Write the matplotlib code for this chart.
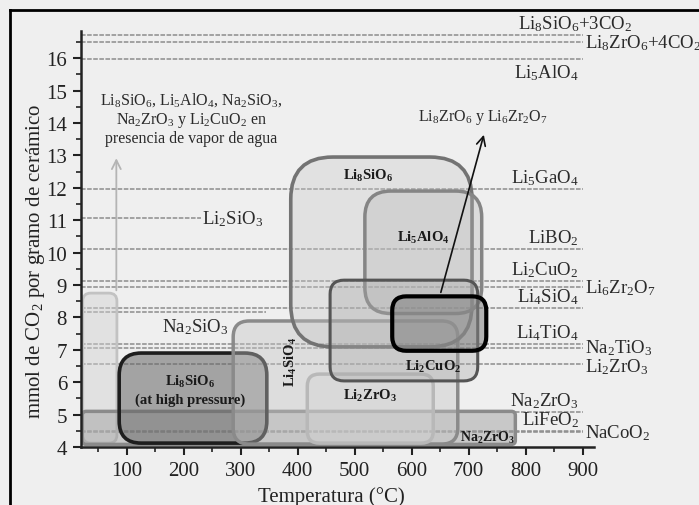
import numpy as np
import matplotlib
matplotlib.use("Agg")
import matplotlib.pyplot as plt
from matplotlib.patches import FancyBboxPatch
from matplotlib.lines import Line2D
from matplotlib.ticker import MultipleLocator

plt.rcParams['font.family'] = ['Liberation Serif', 'DejaVu Serif']
plt.rcParams['mathtext.fontset'] = 'custom'
plt.rcParams['mathtext.rm'] = 'Liberation Serif'
plt.rcParams['mathtext.it'] = 'Liberation Serif:italic'
plt.rcParams['mathtext.bf'] = 'Liberation Serif:bold'

# capacidades teoricas (lineas horizontales)
line_names = [r'Li$_8$SiO$_6$+3CO$_2$', r'Li$_8$ZrO$_6$+4CO$_2$', r'Li$_5$AlO$_4$',
              r'Li$_5$GaO$_4$', r'Li$_2$SiO$_3$', r'LiBO$_2$', r'Li$_2$CuO$_2$',
              r'Li$_6$Zr$_2$O$_7$', r'Li$_4$SiO$_4$', r'Na$_2$SiO$_3$', r'Li$_4$TiO$_4$',
              r'Na$_2$TiO$_3$', r'Li$_2$ZrO$_3$', r'Na$_2$ZrO$_3$', r'LiFeO$_2$', r'NaCoO$_2$']
line_vals = [16.72, 16.49, 15.98, 11.96, 11.07, 10.11, 9.13, 8.93, 8.29, 8.16,
             7.18, 7.06, 6.56, 5.09, 4.48, 4.47]
line_end = [900, 900, 900, 900, 230, 900, 900, 900, 900, 345,
            900, 900, 900, 900, 900, 900]

# regiones experimentales (temperatura, capacidad)
box_names = ['vapor', 'Na2ZrO3', 'Li8SiO6_hp', 'Li4SiO4', 'Li2ZrO3',
             'Li8SiO6', 'Li5AlO4', 'Li2CuO2', 'Li8ZrO6']
box_t0 = [23, 22, 87, 287, 417, 388, 518, 457, 566]
box_t1 = [83, 782, 346, 681, 638, 706, 723, 716, 731]
box_c0 = [4.12, 4.08, 4.12, 4.09, 4.12, 7.09, 8.12, 6.04, 6.97]
box_c1 = [8.75, 5.10, 6.90, 7.89, 6.25, 12.95, 11.90, 9.15, 8.65]

# label placement per line: (x, ha, dy, va)
line_lab = {
    0: (887, 'center', 0.06, 'bottom'),
    1: (905, 'left', 0.0, 'center'),
    2: (893, 'right', -0.1, 'top'),
    3: (893, 'right', 0.06, 'bottom'),
    4: (232, 'left', 0.0, 'center'),
    5: (893, 'right', 0.06, 'bottom'),
    6: (893, 'right', 0.06, 'bottom'),
    7: (904, 'left', 0.0, 'center'),
    8: (893, 'right', 0.06, 'bottom'),
    9: (220, 'center', -0.12, 'top'),
    10: (893, 'right', 0.06, 'bottom'),
    11: (904, 'left', 0.03, 'center'),
    12: (904, 'left', -0.07, 'center'),
    13: (893, 'right', 0.06, 'bottom'),
    14: (893, 'right', 0.08, 'bottom'),
    15: (904, 'left', 0.0, 'center'),
}

# box style: face, alpha, edge, lw, radius(px)
box_style = {
    'vapor': ('#d0d0d0', 0.45, '#c2c2c2', 2.0, 8),
    'Na2ZrO3': ('#9a9a9a', 0.45, '#8a8a8a', 2.5, 4),
    'Li8SiO6_hp': ('#666666', 0.55, '#1e1e1e', 2.6, 22),
    'Li4SiO4': ('#c4c4c4', 0.4, '#8a8a8a', 2.5, 16),
    'Li2ZrO3': ('#d4d4d4', 0.4, '#b8b8b8', 2.5, 12),
    'Li8SiO6': ('#c8c8c8', 0.35, '#737373', 2.6, 42),
    'Li5AlO4': ('#b8b8b8', 0.35, '#858585', 2.5, 26),
    'Li2CuO2': ('#a8a8a8', 0.35, '#555555', 2.2, 14),
    'Li8ZrO6': ('#808080', 0.55, '#000000', 3.0, 14),
}

bg = '#efefef'
fig = plt.figure(figsize=(6.99, 5.06), dpi=100, facecolor=bg)
ax = fig.add_axes([81/699, 58/506, 513/699, 416.3/506])
ax.set_facecolor(bg)
xmin, xmax, ymin, ymax = 20, 920, 4, 16.85
ax.set_xlim(xmin, xmax)
ax.set_ylim(ymin, ymax)

px_x = 513/(xmax-xmin)
px_y = 416.3/(ymax-ymin)
aspect = px_x/px_y

for i in range(len(line_vals)):
    ax.plot([xmin, line_end[i]], [line_vals[i], line_vals[i]], color='#8c8c8c',
            lw=1.1, ls=(0, (3, 1)), zorder=1)
    x, ha, dy, va = line_lab[i]
    ax.text(x, line_vals[i]+dy, line_names[i], ha=ha, va=va, fontsize=13.5,
            color='#2a2a2a', clip_on=False, zorder=6)

for i, nm in enumerate(box_names):
    fc, al, ec, lw, r = box_style[nm]
    p = FancyBboxPatch((box_t0[i], box_c0[i]), box_t1[i]-box_t0[i], box_c1[i]-box_c0[i],
                       boxstyle='round,pad=0,rounding_size=%f' % (r/px_x),
                       mutation_aspect=aspect, edgecolor=ec, lw=lw, zorder=2+i*0.1)
    p.set_facecolor(matplotlib.colors.to_rgba(fc, al))
    ax.add_patch(p)

# etiquetas de regiones
bold = dict(fontsize=10.5, color='#1a1a1a', zorder=7, ha='center', va='center')
ax.text(523, 12.4, r'$\mathbf{Li_8SiO_6}$', **bold)
ax.text(620, 10.48, r'$\mathbf{Li_5AlO_4}$', **bold)
ax.text(638, 6.5, r'$\mathbf{Li_2CuO_2}$', **bold)
ax.text(527, 5.6, r'$\mathbf{Li_2ZrO_3}$', **bold)
ax.text(389, 6.66, r'$\mathbf{Li_4SiO_4}$', rotation=90, **bold)
ax.text(211, 6.05, r'$\mathbf{Li_8SiO_6}$', **bold)
ax.text(211, 5.47, '(at high pressure)', fontweight='bold', **bold)
ax.text(734, 4.31, r'$\mathbf{Na_2ZrO_3}$', fontsize=10, color='#1a1a1a', zorder=7,
        ha='center', va='center')

# flechas
ax.annotate('', xy=(82, 13.0), xytext=(82, 8.75),
            arrowprops=dict(arrowstyle='->', color='#b4b4b4', lw=1.3, mutation_scale=16),
            zorder=4)
ax.annotate('', xy=(728, 13.72), xytext=(650, 8.69),
            arrowprops=dict(arrowstyle='->', color='#111111', lw=1.2, mutation_scale=16),
            zorder=8)
ax.text(214, 14.15, 'Li$_8$SiO$_6$, Li$_5$AlO$_4$, Na$_2$SiO$_3$,\nNa$_2$ZrO$_3$ y Li$_2$CuO$_2$ en\npresencia de vapor de agua',
        ha='center', va='center', fontsize=11.5, color='#2a2a2a', linespacing=1.15)
ax.text(725, 14.19, 'Li$_8$ZrO$_6$ y Li$_6$Zr$_2$O$_7$', ha='center', va='center',
        fontsize=11.5, color='#2a2a2a')

# ejes
for s in ['top', 'right']:
    ax.spines[s].set_visible(False)
for s in ['left', 'bottom']:
    ax.spines[s].set_linewidth(1.8)
    ax.spines[s].set_color('#222222')
ax.xaxis.set_major_locator(MultipleLocator(100))
ax.xaxis.set_minor_locator(MultipleLocator(50))
ax.yaxis.set_major_locator(MultipleLocator(1))
ax.yaxis.set_minor_locator(MultipleLocator(0.5))
ax.set_xticks(np.arange(100, 901, 100))
ax.tick_params(which='major', direction='out', length=6, width=1.5, labelsize=15,
               colors='#222222', pad=4)
ax.tick_params(which='minor', direction='out', length=3.5, width=1.2, colors='#222222')
ax.set_xlabel('Temperatura (°C)', fontsize=15, color='#222222')
ax.xaxis.set_label_coords(0.489, -0.093)
ax.set_ylabel('mmol de CO$_2$ por gramo de cerámico', fontsize=15, color='#222222')
ax.yaxis.set_label_coords(-0.066, 0.449)

# marco
fig.add_artist(Line2D([10/699, 10/699], [0, 1-11/506], color='black', lw=2))
fig.add_artist(Line2D([10/699, 1], [1-11/506, 1-11/506], color='black', lw=2))

fig.savefig('out.png', dpi=100, facecolor=bg)
